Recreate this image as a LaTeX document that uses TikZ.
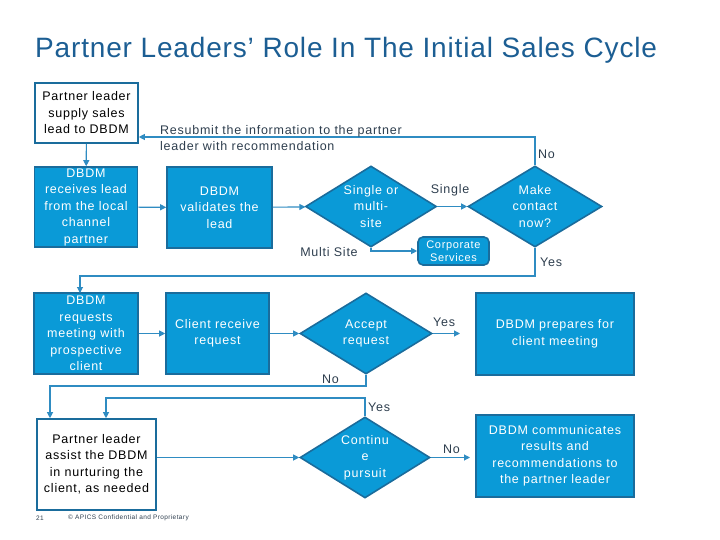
\documentclass[tikz,border=0pt]{standalone}
\usepackage{fontspec}
\setmainfont{Liberation Sans}[LetterSpace=6]
\newfontfamily\titlefont{Liberation Sans}[LetterSpace=3]
\usetikzlibrary{shapes.geometric,arrows.meta}
\definecolor{fillb}{HTML}{0A9AD7}
\definecolor{edgeb}{HTML}{1A6C9C}
\definecolor{lineb}{HTML}{2F8CC2}
\definecolor{titleb}{HTML}{1C5E93}
\definecolor{txt}{HTML}{2E3E4E}
\tikzset{
  bx/.style={draw=edgeb, line width=1.6pt, fill=fillb, text=white, align=center, inner sep=0pt,
    font=\fontsize{12.5}{16.5}\selectfont},
  wbx/.style={bx, fill=white, text=black},
  dm/.style={diamond, draw=edgeb, line width=1.6pt, fill=fillb, inner sep=0pt},
  dtext/.style={text=white, align=center, inner sep=0pt, font=\fontsize{12.5}{16.5}\selectfont},
  conn/.style={draw=lineb, line width=1.1pt, -{Triangle[length=6pt,width=6pt]}},
  lbl/.style={text=txt, inner sep=0pt, font=\fontsize{12.5}{16.5}\selectfont},
}
\begin{document}
\begin{tikzpicture}[x=1pt,y=-1pt]
\useasboundingbox (0,0) rectangle (720,540);
% title
\node[anchor=west, text=titleb, inner sep=0pt, font=\titlefont\fontsize{28}{30}\selectfont] (title) at (35,50) {Partner Leaders’ Role In The Initial Sales Cycle};
% boxes
\node[wbx, minimum width=103pt, minimum height=60pt] (b1) at (86.5,113) {Partner leader\\supply sales\\lead to DBDM};
\node[bx, minimum width=103pt, minimum height=80pt] (b2) at (86,207) {DBDM\\receives lead\\from the local\\channel\\partner};
\node[bx, minimum width=105pt, minimum height=81pt] (b3) at (219.5,207.5) {DBDM\\validates the\\lead};
\node[dm, minimum width=131pt, minimum height=81pt] (d1) at (371,206.5) {};
\node[dtext] (d1t) at (d1) {Single or\\multi-\\site};
\node[bx, rounded corners=5pt, minimum width=71pt, minimum height=28pt, font=\fontsize{11}{13.5}\selectfont] (cs) at (453.5,251) {Corporate\\Services};
\node[dm, minimum width=134pt, minimum height=81pt] (d2) at (535,206.5) {};
\node[dtext] (d2t) at (d2) {Make\\contact\\now?};
\node[bx, minimum width=104pt, minimum height=81pt] (b7) at (86,333.5) {DBDM\\requests\\meeting with\\prospective\\client};
\node[bx, minimum width=103pt, minimum height=81pt] (b8) at (217.5,333.5) {Client receive\\request};
\node[dm, minimum width=132pt, minimum height=81pt] (d3) at (366,333.5) {};
\node[dtext] (d3t) at (d3) {Accept\\request};
\node[bx, minimum width=158pt, minimum height=82pt] (b10) at (555,334) {DBDM prepares for\\client meeting};
\node[wbx, minimum width=119pt, minimum height=91pt] (b11) at (96.5,464.5) {Partner leader\\assist the DBDM\\in nurturing the\\client, as needed};
\node[dm, minimum width=130pt, minimum height=81pt] (d4) at (365,457.5) {};
\node[dtext] (d4t) at (d4) {Continu\\e\\pursuit};
\node[bx, minimum width=158pt, minimum height=82pt] (b13) at (555,456) {DBDM communicates\\results and\\recommendations to\\the partner leader};
% coordinates
\coordinate (nTop) at (535,137);
\coordinate (yesR) at (535,276);
\coordinate (b7in) at (80,293);
\coordinate (noL) at (50,386);
\coordinate (yesL) at (106,398);
\coordinate (yesEnd) at (460,333.5);
\coordinate (noEnd) at (470,457.5);
% connectors
\draw[conn] (b1) -- (b2);
\draw[conn] (b2) -- (b3);
\draw[conn] (b3) -- (d1);
\draw[conn] (d1.east) -- (d2.west);
\draw[conn] (d1.south) |- (cs.west);
\draw[conn] (d2.north) -- (nTop) -- (b1.east |- nTop);
\draw[conn] (d2.south) -- (yesR) -| (b7in);
\draw[conn] (b7) -- (b8);
\draw[conn] (b8) -- (d3);
\draw[conn] (d3.east) -- (yesEnd);
\draw[conn] (d3.south) |- (noL) -- (noL |- b11.north);
\draw[conn] (d4.north) |- (yesL) -- (yesL |- b11.north);
\draw[conn] (b11.east |- d4.west) -- (d4.west);
\draw[conn] (d4.east) -- (noEnd);
% labels
\node[lbl, anchor=west, align=left] (resub) at (160,138) {Resubmit the information to the partner\\leader with recommendation};
\node[lbl] (lsingle) at (450,190) {Single};
\node[lbl] (lmulti) at (329,252) {Multi Site};
\node[lbl, anchor=west] (lno1) at (538,154) {No};
\node[lbl, anchor=west] (lyes1) at (540,262) {Yes};
\node[lbl, anchor=west] (lyes2) at (433,322) {Yes};
\node[lbl, anchor=west] (lno2) at (322,379) {No};
\node[lbl, anchor=west] (lyes3) at (368,407) {Yes};
\node[lbl, anchor=west] (lno3) at (443,449) {No};
% footer
\node[anchor=west, text=txt, inner sep=0pt, font=\fontsize{6.5}{8}\selectfont] (pg) at (36,518) {21};
\node[anchor=west, text=txt, inner sep=0pt, font=\fontsize{6.5}{8}\selectfont] (copy) at (68,518) {© APICS Confidential and Proprietary};
\end{tikzpicture}
\end{document}
